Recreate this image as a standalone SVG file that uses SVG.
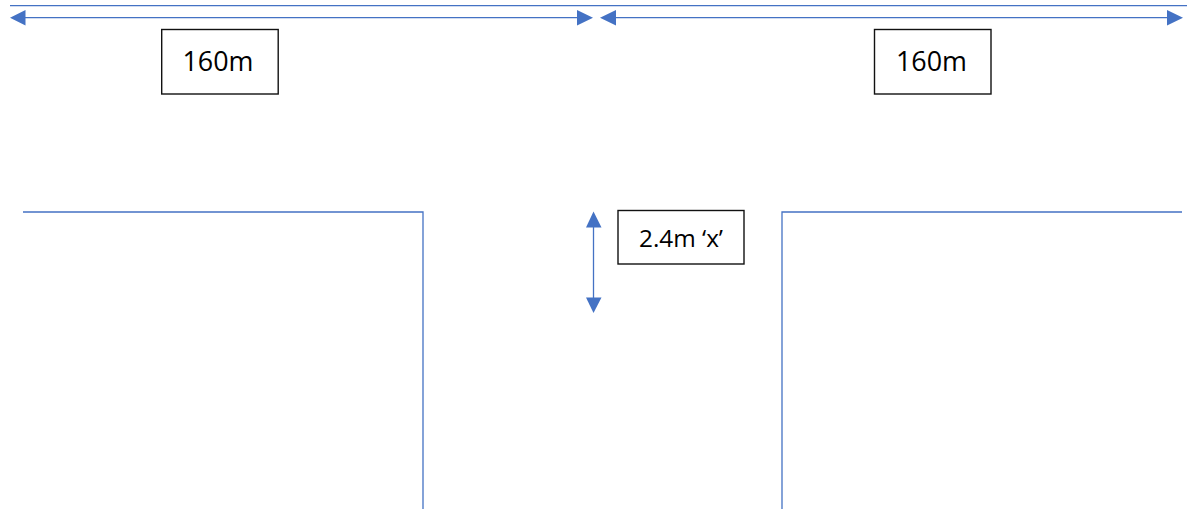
<svg xmlns="http://www.w3.org/2000/svg" width="1187" height="509" viewBox="0 0 1187 509">
<style>
.c{fill:none;stroke:#4472c4;stroke-width:1.3}
.b{fill:#fff;stroke:#111;stroke-width:1.4}
.h{fill:#4472c4}
text{font-family:"Open Sans","Liberation Sans",sans-serif;fill:#000;text-anchor:middle}
</style>
<rect width="1187" height="509" fill="#fff"/>
<g id="connectors">
<path class="c" d="M10 5.700H1187"/>
<path class="c" d="M25 17.700H579"/><path class="h" d="M10 17.700L25.500 10V25.500Z"/><path class="h" d="M593 17.700L577 10V25.500Z"/>
<path class="c" d="M615 17.700H1168"/><path class="h" d="M600 17.700L616 10V25.500Z"/><path class="h" d="M1183 17.700L1167 10V25.500Z"/>
<path class="c" d="M593.500 226V299"/><path class="h" d="M593.500 211.500L586 227.500H601.500Z"/><path class="h" d="M593.500 313L586 297.500H601.500Z"/>
<path class="c" d="M23 212H423V509"/>
<path class="c" d="M1182 212H782V509"/>
</g>
<g id="label-left"><rect class="b" x="161.700" y="29.500" width="116.500" height="64.500"/><text x="218" y="71" font-size="27" textLength="71" lengthAdjust="spacingAndGlyphs">160m</text></g>
<g id="label-right"><rect class="b" x="874.500" y="29.500" width="116.500" height="64.500"/><text x="931.500" y="71" font-size="27" textLength="71" lengthAdjust="spacingAndGlyphs">160m</text></g>
<g id="label-x"><rect class="b" x="618" y="210.500" width="126" height="53.500"/><text x="681" y="246.500" font-size="23" textLength="84" lengthAdjust="spacingAndGlyphs">2.4m ‘x’</text></g>
</svg>
